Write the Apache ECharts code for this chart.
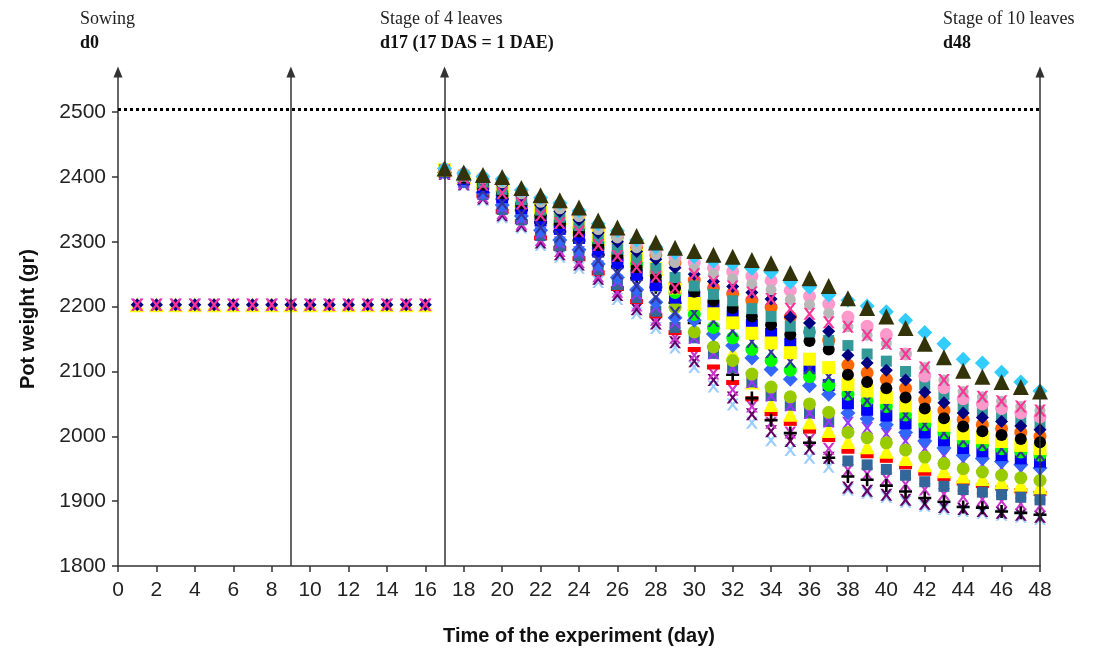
<!DOCTYPE html>
<html>
<head>
<meta charset="utf-8">
<script src="https://cdn.jsdelivr.net/npm/echarts@6/dist/echarts.min.js"></script>
<style>
  html, body { margin: 0; padding: 0; background: #ffffff; }
  #chart { width: 1093px; height: 659px; }
</style>
</head>
<body>
<div id="chart"></div>
<script>
// ---------- DATA ----------
const preDays = [1, 2, 3, 4, 5, 6, 7, 8, 9, 10, 11, 12, 13, 14, 15, 16];
const preWeight = [2203, 2203, 2203, 2203, 2203, 2203, 2203, 2203, 2203, 2203, 2203, 2203, 2203, 2203, 2203, 2203];
const days = [17, 18, 19, 20, 21, 22, 23, 24, 25, 26, 27, 28, 29, 30, 31, 32,
              33, 34, 35, 36, 37, 38, 39, 40, 41, 42, 43, 44, 45, 46, 47, 48];

const triOlive    = [2413,2407,2403,2400,2383,2372,2364,2353,2333,2322,2309,2299,2291,2286,2280,2277,2272,2267,2252,2244,2232,2213,2198,2185,2167,2143,2122,2101,2092,2084,2076,2069];
const diaCyan     = [2413,2406,2401,2397,2380,2368,2360,2348,2328,2317,2303,2292,2283,2277,2270,2266,2259,2253,2238,2230,2218,2210,2201,2192,2179,2160,2143,2119,2113,2099,2084,2070];
const xPink       = [2410,2399,2388,2375,2359,2341,2329,2316,2295,2278,2261,2246,2229,2250,2239,2231,2222,2212,2197,2189,2176,2169,2156,2143,2127,2106,2087,2069,2061,2054,2046,2040];
const cirGray     = [2412,2404,2397,2391,2374,2361,2351,2339,2319,2306,2291,2280,2268,2259,2250,2243,2235,2226,2211,2203,2190,2169,2156,2143,2127,2106,2087,2069,2061,2054,2046,2040];
const cirPink     = [2412,2405,2399,2394,2377,2364,2355,2344,2324,2311,2297,2286,2276,2268,2260,2254,2247,2240,2225,2216,2204,2184,2170,2157,2127,2093,2075,2058,2050,2043,2036,2030];
const diaNavy     = [2411,2403,2395,2388,2371,2357,2347,2334,2314,2300,2285,2273,2260,2250,2239,2231,2222,2212,2184,2175,2162,2125,2113,2102,2087,2068,2052,2036,2029,2023,2016,2010];
const rectTeal    = [2411,2401,2392,2381,2365,2349,2338,2325,2305,2289,2273,2259,2245,2232,2219,2209,2197,2185,2170,2161,2148,2140,2127,2116,2100,2080,2064,2047,2040,2033,2026,2020];
const cirBlack    = [2410,2399,2388,2375,2359,2341,2329,2316,2295,2278,2261,2246,2229,2223,2209,2198,2185,2172,2157,2147,2134,2095,2084,2074,2060,2043,2028,2015,2008,2002,1996,1991];
const rectYellow  = [2411,2402,2394,2385,2368,2353,2343,2330,2310,2295,2279,2259,2229,2205,2189,2175,2159,2144,2129,2119,2106,2080,2070,2060,2047,2031,2017,2004,1998,1992,1986,1981];
const cirOrange   = [2412,2404,2397,2391,2374,2361,2351,2339,2319,2306,2291,2280,2268,2241,2229,2220,2210,2199,2184,2161,2148,2110,2098,2088,2074,2056,2040,2026,2018,2012,2006,2000];
const xNavy       = [2408,2395,2378,2360,2343,2322,2308,2293,2271,2251,2232,2214,2191,2190,2178,2163,2146,2130,2115,2105,2092,2065,2055,2046,2033,2018,2005,1993,1987,1981,1976,1971];
const cirGreen    = [2410,2400,2390,2378,2362,2345,2334,2321,2300,2284,2267,2253,2222,2188,2168,2152,2134,2117,2102,2092,2079,2065,2055,2046,2033,2018,2005,1993,1987,1981,1976,1971];
const rectBlue    = [2409,2397,2384,2369,2352,2333,2320,2306,2285,2267,2249,2233,2214,2214,2199,2186,2172,2158,2143,2105,2079,2051,2041,2032,2020,2006,1994,1982,1977,1971,1966,1961];
const diaRoyal    = [2407,2394,2376,2357,2340,2318,2303,2288,2266,2245,2226,2207,2183,2179,2158,2140,2121,2103,2088,2078,2065,2036,2027,2018,2006,1993,1982,1971,1966,1961,1956,1951];
const cirOliveGrn = [2409,2398,2386,2372,2356,2337,2325,2311,2290,2273,2255,2233,2199,2161,2138,2117,2096,2076,2061,2050,2037,2006,1998,1990,1979,1968,1958,1950,1945,1940,1936,1932];
const xPurple     = [2407,2393,2375,2354,2337,2314,2299,2284,2262,2240,2220,2200,2176,2152,2128,2106,2084,2063,2048,2036,2023,2021,2013,2004,1993,1981,1970,1961,1956,1951,1946,1942];
const rectSteel   = [2407,2392,2373,2350,2334,2310,2294,2279,2257,2234,2214,2193,2168,2152,2128,2106,2084,2063,2048,2036,2023,1962,1956,1949,1940,1930,1923,1918,1914,1910,1906,1902];
const triYellow   = [2411,2401,2392,2381,2365,2349,2338,2325,2305,2289,2273,2259,2245,2205,2168,2129,2084,2049,2034,2022,2009,1992,1984,1977,1966,1956,1947,1939,1935,1930,1926,1922];
const dashRed     = [2406,2391,2371,2347,2331,2306,2290,2274,2252,2228,2208,2186,2160,2134,2107,2083,2058,2035,2020,2008,1995,1977,1970,1963,1953,1943,1935,1928,1924,1920,1916,1912];
const xMagenta    = [2406,2390,2369,2344,2328,2303,2286,2269,2247,2223,2202,2180,2152,2125,2097,2072,2046,2021,2006,1995,1981,1948,1942,1935,1926,1918,1911,1907,1903,1900,1896,1893];
const plusBlack   = [2408,2396,2382,2366,2349,2330,2316,2302,2280,2262,2244,2230,2206,2175,2138,2095,2059,2025,2005,1990,1967,1938,1933,1924,1915,1905,1899,1891,1890,1884,1882,1879];
const xDarkPurple = [2405,2389,2367,2341,2325,2299,2281,2265,2243,2218,2196,2174,2145,2116,2087,2060,2034,2008,1993,1981,1967,1921,1916,1910,1902,1896,1891,1888,1885,1882,1879,1876];
const xLightBlue  = [2405,2388,2365,2338,2322,2295,2277,2260,2238,2212,2190,2167,2137,2107,2077,2049,2021,1994,1979,1967,1953,1918,1913,1907,1899,1893,1888,1885,1882,1879,1876,1873];

const yTicks = [1800, 1900, 2000, 2100, 2200, 2300, 2400, 2500];
const stageDays = [9, 17, 48];
const referenceWeight = 2504;

// ---------- STYLES ----------
const X_PATH = 'path://M0,0 L2.2,0 L5,3.6 L7.8,0 L10,0 L6.2,5 L10,10 L7.8,10 L5,6.4 L2.2,10 L0,10 L3.8,5 Z';
const PLUS_PATH = 'path://M4,0 L6,0 L6,4 L10,4 L10,6 L6,6 L6,10 L4,10 L4,6 L0,6 L0,4 L4,4 Z';

const defs = [
  { values: xLightBlue,  symbol: X_PATH,     size: 12,      color: '#99ccff', pre: true },
  { values: xDarkPurple, symbol: X_PATH,     size: 12,      color: '#660066', pre: false },
  { values: xMagenta,    symbol: X_PATH,     size: 12,      color: '#cc33cc', pre: true },
  { values: dashRed,     symbol: 'rect',     size: [13, 5], color: '#ff0000', pre: false },
  { values: plusBlack,   symbol: PLUS_PATH,  size: 13,      color: '#000000', pre: false },
  { values: triYellow,   symbol: 'triangle', size: 15,      color: '#ffff00', pre: true },
  { values: rectSteel,   symbol: 'rect',     size: 11,      color: '#336699', pre: false },
  { values: xPurple,     symbol: X_PATH,     size: 12,      color: '#9933ff', pre: true },
  { values: cirOliveGrn, symbol: 'circle',   size: 13,      color: '#99cc00', pre: false },
  { values: diaRoyal,    symbol: 'diamond',  size: 15,      color: '#3366ff', pre: false },
  { values: rectBlue,    symbol: 'rect',     size: 12,      color: '#0000ff', pre: false },
  { values: cirGreen,    symbol: 'circle',   size: 13,      color: '#00ff00', pre: false },
  { values: xNavy,       symbol: X_PATH,     size: 12,      color: '#333399', pre: false },
  { values: cirOrange,   symbol: 'circle',   size: 13,      color: '#ff6600', pre: false },
  { values: rectYellow,  symbol: 'rect',     size: 13,      color: '#ffff00', pre: false },
  { values: cirBlack,    symbol: 'circle',   size: 12,      color: '#000000', pre: false },
  { values: rectTeal,    symbol: 'rect',     size: 11,      color: '#339999', pre: false },
  { values: diaNavy,     symbol: 'diamond',  size: 13,      color: '#000080', pre: true },
  { values: cirPink,     symbol: 'circle',   size: 13,      color: '#ff99cc', pre: false },
  { values: cirGray,     symbol: 'circle',   size: 11,      color: '#b8b8b8', pre: false },
  { values: xPink,       symbol: X_PATH,     size: 12,      color: '#ff3399', pre: true },
  { values: diaCyan,     symbol: 'diamond',  size: 15,      color: '#33ccff', pre: false },
  { values: triOlive,    symbol: 'triangle', size: 16,      color: '#33330a', pre: false }
];

const series = defs.map(function (d) {
  const pts = [];
  if (d.pre) {
    preDays.forEach(function (x, i) { pts.push([x, preWeight[i]]); });
  }
  days.forEach(function (x, i) { pts.push([x, d.values[i]]); });
  return {
    type: 'scatter',
    data: pts,
    symbol: d.symbol,
    symbolSize: d.size,
    itemStyle: { color: d.color, opacity: 1 },
    silent: true,
    animation: false,
    z: 3
  };
});

const Y_TOP = 2562;

// vertical stage arrows
series.push({
  type: 'scatter',
  data: [],
  silent: true,
  z: 2,
  markLine: {
    silent: true,
    animation: false,
    symbol: ['none', 'triangle'],
    symbolSize: [9, 11],
    label: { show: false },
    lineStyle: { color: '#333333', width: 1.5, type: 'solid' },
    data: stageDays.map(function (d) {
      return [{ coord: [d, 1800] }, { coord: [d, Y_TOP] }];
    })
  }
});
// dotted reference line
series.push({
  type: 'scatter',
  data: [],
  silent: true,
  z: 2,
  markLine: {
    silent: true,
    animation: false,
    symbol: ['none', 'none'],
    label: { show: false },
    lineStyle: { color: '#000000', width: 3, type: [3, 3] },
    data: [[{ coord: [0, referenceWeight] }, { coord: [48, referenceWeight] }]]
  }
});

const chart = echarts.init(document.getElementById('chart'), null, { renderer: 'canvas' });
chart.setOption({
  backgroundColor: '#ffffff',
  animation: false,
  grid: { left: 118, right: 53, top: 72, bottom: 93, containLabel: false },
  xAxis: {
    type: 'value',
    min: 0, max: 48, interval: 2,
    name: 'Time of the experiment (day)',
    nameLocation: 'middle',
    nameGap: 60,
    nameTextStyle: { fontFamily: '"Liberation Sans", Arial, sans-serif', fontWeight: 'bold', fontSize: 20, color: '#111' },
    axisLine: { show: true, onZero: false, lineStyle: { color: '#333', width: 1.5 } },
    axisTick: { show: true, length: 6, lineStyle: { color: '#333', width: 1.5 } },
    axisLabel: { fontFamily: '"Liberation Sans", Arial, sans-serif', fontSize: 21, color: '#222', margin: 14 },
    splitLine: { show: false }
  },
  yAxis: {
    type: 'value',
    min: 1800, max: Y_TOP, interval: 100,
    name: 'Pot weight (gr)',
    nameLocation: 'middle',
    nameGap: 80,
    nameTextStyle: { fontFamily: '"Liberation Sans", Arial, sans-serif', fontWeight: 'bold', fontSize: 20, color: '#111' },
    axisLine: { show: true, onZero: false, symbol: ['none', 'triangle'], symbolSize: [9, 11], lineStyle: { color: '#333', width: 1.5 } },
    axisTick: { show: true, length: 6, customValues: yTicks, lineStyle: { color: '#333', width: 1.5 } },
    axisLabel: {
      customValues: yTicks,
      formatter: function (v) { return String(v); },
      fontFamily: '"Liberation Sans", Arial, sans-serif', fontSize: 21, color: '#222', margin: 12
    },
    splitLine: { show: false }
  },
  graphic: [
    { type: 'text', left: 80, top: 10, style: { text: 'Sowing', font: '18px "Liberation Serif", serif', fill: '#222' } },
    { type: 'text', left: 80, top: 34, style: { text: 'd0', font: 'bold 18px "Liberation Serif", serif', fill: '#111' } },
    { type: 'text', left: 380, top: 10, style: { text: 'Stage of 4 leaves', font: '18px "Liberation Serif", serif', fill: '#222' } },
    { type: 'text', left: 380, top: 34, style: { text: 'd17 (17 DAS = 1 DAE)', font: 'bold 18px "Liberation Serif", serif', fill: '#111' } },
    { type: 'text', left: 943, top: 10, style: { text: 'Stage of 10 leaves', font: '18px "Liberation Serif", serif', fill: '#222' } },
    { type: 'text', left: 943, top: 34, style: { text: 'd48', font: 'bold 18px "Liberation Serif", serif', fill: '#111' } }
  ],
  series: series
});
</script>
</body>
</html>
